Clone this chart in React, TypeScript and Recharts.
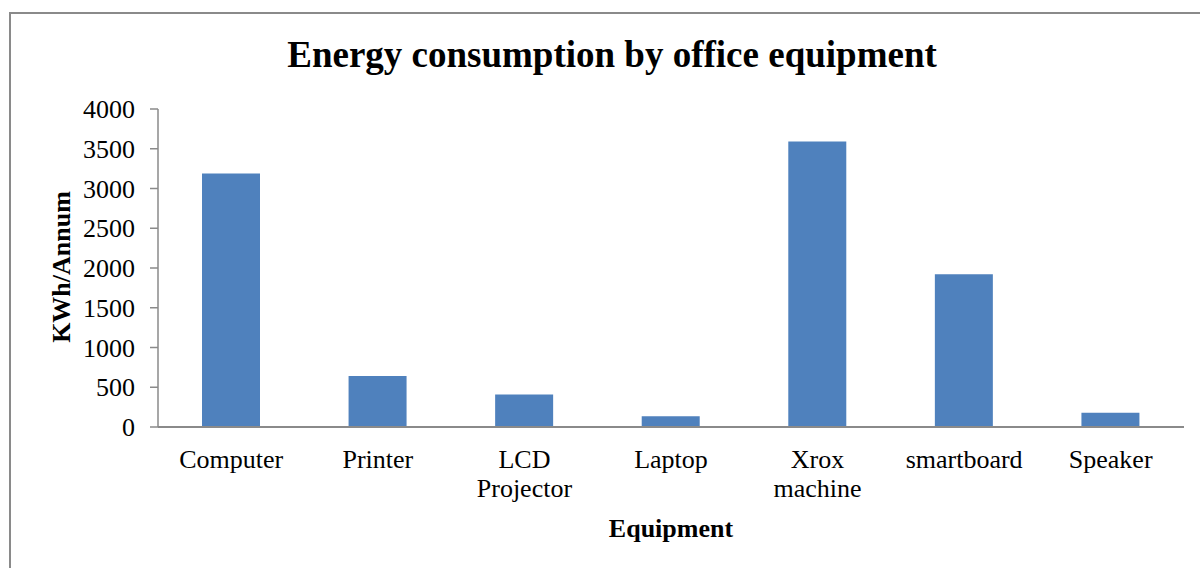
import { Bar, BarChart, XAxis, YAxis } from 'recharts';

const categories = [
  'Computer',
  'Printer',
  'LCD Projector',
  'Laptop',
  'Xrox machine',
  'smartboard',
  'Speaker',
];
const consumption = [3190, 640, 410, 135, 3590, 1920, 180];
const yTicks = [0, 500, 1000, 1500, 2000, 2500, 3000, 3500, 4000];

const data = categories.map((name, i) => ({ name, kwh: consumption[i] }));

const FONT = '"Liberation Serif", "Times New Roman", serif';
const AXIS = '#8a8a8a';

function CategoryTick({ x, y, payload }: any) {
  const lines = String(payload.value).split(' ');
  return (
    <text x={x} y={y} textAnchor="middle" fontFamily={FONT} fontSize={26} fill="#000">
      {lines.map((line, i) => (
        <tspan key={line} x={x} dy={i === 0 ? 41 : 29}>
          {line}
        </tspan>
      ))}
    </text>
  );
}

export default function App() {
  return (
    <div
      style={{
        position: 'absolute',
        left: 0,
        top: 0,
        width: 1200,
        height: 568,
        overflow: 'hidden',
        background: '#fff',
      }}
    >
      <div
        style={{
          position: 'absolute',
          left: 9,
          top: 12,
          width: 1400,
          height: 800,
          border: `2px solid ${AXIS}`,
        }}
      />
      <div style={{ position: 'absolute', left: 0, top: 0 }}>
        <BarChart
          width={1200}
          height={568}
          data={data}
          margin={{ top: 109, right: 16, left: 0, bottom: 0 }}
        >
          <YAxis
            width={158}
            domain={[0, 4000]}
            ticks={yTicks}
            interval={0}
            tickSize={8}
            tickMargin={15}
            axisLine={{ stroke: AXIS, strokeWidth: 1.5 }}
            tickLine={{ stroke: AXIS, strokeWidth: 1.5 }}
            tick={{ fill: '#000', fontSize: 26, fontFamily: FONT }}
          />
          <XAxis
            dataKey="name"
            height={141}
            interval={0}
            tickLine={false}
            tickSize={0}
            tickMargin={0}
            axisLine={{ stroke: AXIS, strokeWidth: 2 }}
            tick={<CategoryTick />}
          />
          <Bar dataKey="kwh" fill="#4F81BD" barSize={58} isAnimationActive={false} />
        </BarChart>
      </div>
      <svg
        width={1200}
        height={568}
        style={{ position: 'absolute', left: 0, top: 0, pointerEvents: 'none' }}
      >
        <text
          x={612}
          y={67}
          textAnchor="middle"
          fontFamily={FONT}
          fontWeight="bold"
          fontSize={37}
          fill="#000"
        >
          Energy consumption by office equipment
        </text>
        <text
          x={671}
          y={537}
          textAnchor="middle"
          fontFamily={FONT}
          fontWeight="bold"
          fontSize={26}
          fill="#000"
        >
          Equipment
        </text>
        <text
          transform="translate(70 267) rotate(-90)"
          textAnchor="middle"
          fontFamily={FONT}
          fontWeight="bold"
          fontSize={26}
          fill="#000"
        >
          KWh/Annum
        </text>
      </svg>
    </div>
  );
}
